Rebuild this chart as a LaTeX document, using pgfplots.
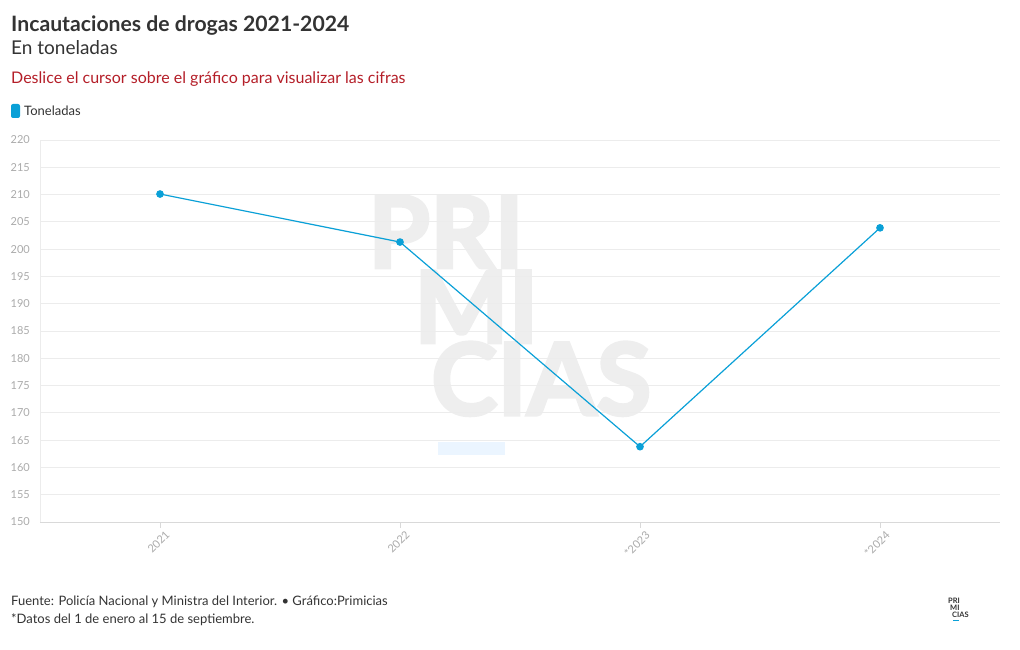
\documentclass[border=0pt]{standalone}
\usepackage{pgfplots}
\pgfplotsset{compat=1.18}
\usepackage{fontspec}
\setmainfont{Lato}
\newfontfamily\wmfont[FakeBold=3]{Lato}
\definecolor{lineblue}{RGB}{10,160,215}
\definecolor{titlegray}{RGB}{51,51,51}
\definecolor{tickgray}{RGB}{170,170,170}
\definecolor{gridgray}{RGB}{236,236,236}
\definecolor{redtxt}{RGB}{180,30,40}
\definecolor{wm}{RGB}{238,238,238}
\definecolor{wmblue}{RGB}{235,245,255}
\begin{document}
\begin{tikzpicture}
\path[use as bounding box] (0pt,0pt) rectangle (1020pt,650pt);
% titles
\node[anchor=base west, inner sep=0pt, font=\fontsize{21.2}{24}\selectfont\bfseries, text=titlegray] at (11pt,618pt) {Incautaciones de drogas 2021-2024};
\node[anchor=base west, inner sep=0pt, font=\fontsize{19}{21}\selectfont, text=titlegray] at (11pt,595pt) {En toneladas};
\node[anchor=base west, inner sep=0pt, font=\fontsize{16}{18}\selectfont, text=redtxt] at (11pt,566pt) {Deslice el cursor sobre el gráfico para visualizar las cifras};
% legend
\fill[lineblue, rounded corners=2pt] (11pt,532pt) rectangle (20pt,546pt);
\node[anchor=base west, inner sep=0pt, font=\fontsize{13}{15}\selectfont, text=titlegray] at (24pt,534pt) {Toneladas};
% watermark
\node[anchor=base west, inner sep=0pt, font=\fontsize{100}{100}\wmfont\bfseries, text=wm] at (368pt,382pt) {PRI};
\node[anchor=base west, inner sep=0pt, font=\fontsize{100}{100}\wmfont\bfseries, text=wm] at (414pt,307pt) {MI};
\node[anchor=base west, inner sep=0pt, font=\fontsize{100}{100}\wmfont\bfseries, text=wm] at (431pt,235pt) {CIAS};
\fill[wmblue] (438pt,195pt) rectangle (505pt,208pt);
\begin{axis}[
  at={(40pt,128pt)}, anchor=south west,
  scale only axis, width=960pt, height=382pt,
  xmin=-0.5, xmax=3.5, ymin=150, ymax=220,
  xtick={0,1,2,3}, xticklabels={2021,2022,*2023,*2024},
  ytick={150,155,...,220},
  ymajorgrids, grid style={gridgray, line width=0.8pt},
  axis x line*=bottom, axis y line*=left,
  axis line style={gridgray, line width=0.8pt},
  x axis line style={color=gray!30},
  separate axis lines,
  tick align=outside,
  x tick style={gray!30, line width=0.6pt}, major x tick style={gray!30},
  major tick length=6pt,
  y tick style={draw=none},
  yticklabel style={font=\fontsize{11}{12}\selectfont, text=tickgray, inner sep=0pt, xshift=-4pt},
  xticklabel style={font=\fontsize{11}{12}\selectfont, text=tickgray, rotate=45, anchor=east, inner sep=0pt, yshift=-9pt, xshift=2pt},
  /pgf/number format/assume math mode=true,
  clip=false,
]
\addplot[lineblue, line width=1.2pt, mark=*, mark size=3.2pt, mark options={fill=lineblue, draw=lineblue}] coordinates {
  (0,210.1) (1,201.3) (2,163.8) (3,203.9)
};
\end{axis}
% footer
\node[anchor=base west, inner sep=0pt, font=\fontsize{13}{15}\selectfont, text=titlegray] at (11pt,44pt) {Fuente: Policía Nacional y Ministra del Interior. • Gráfico:Primicias};
\node[anchor=base west, inner sep=0pt, font=\fontsize{13}{15}\selectfont, text=titlegray] at (11pt,26pt) {*Datos del 1 de enero al 15 de septiembre.};
% logo
\node[anchor=base west, inner sep=0pt, font=\fontsize{7.5}{8}\selectfont\bfseries, text=titlegray] at (948pt,46pt) {PRI};
\node[anchor=base west, inner sep=0pt, font=\fontsize{7.5}{8}\selectfont\bfseries, text=titlegray] at (950pt,39pt) {MI};
\node[anchor=base west, inner sep=0pt, font=\fontsize{7.5}{8}\selectfont\bfseries, text=titlegray] at (952pt,32pt) {CIAS};
\draw[lineblue, line width=0.8pt] (953pt,30pt) -- (959pt,30pt);
\end{tikzpicture}
\end{document}
